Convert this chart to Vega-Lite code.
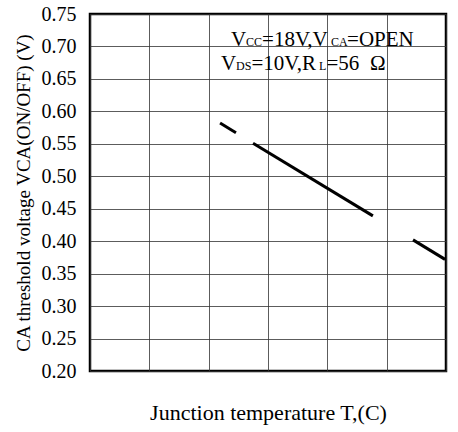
{
  "$schema": "https://vega.github.io/schema/vega-lite/v6.json",
  "autosize": {"type": "none"},
  "width": 356,
  "height": 357,
  "padding": {"left": 90, "top": 14, "right": 12, "bottom": 61},
  "background": "white",
  "config": {
    "font": "Liberation Serif",
    "view": {"stroke": "black", "strokeWidth": 2.5},
    "axis": {
      "labelFont": "Liberation Serif",
      "titleFont": "Liberation Serif",
      "labelColor": "black",
      "titleColor": "black",
      "labelFontSize": 20,
      "titleFontSize": 20,
      "titleFontWeight": "normal",
      "labelOverlap": false,
      "domain": false,
      "ticks": false,
      "gridColor": "#333",
      "gridWidth": 1,
      "gridOpacity": 0.8
    }
  },
  "datasets": {
    "curve": [
      {"T": 29.8, "V": 0.582, "seg": "a"},
      {"T": 36.5, "V": 0.567, "seg": "a"},
      {"T": 43.7, "V": 0.551, "seg": "b"},
      {"T": 94.2, "V": 0.439, "seg": "b"},
      {"T": 111.1, "V": 0.402, "seg": "c"},
      {"T": 124.6, "V": 0.372, "seg": "c"}
    ],
    "big": [
      {"T": 34.4, "V": 0.7007, "txt": "V"},
      {"T": 47.5, "V": 0.7007, "txt": "=18V,V"},
      {"T": 83.3, "V": 0.7007, "txt": "=OPEN"},
      {"T": 30.2, "V": 0.6637, "txt": "V"},
      {"T": 43.0, "V": 0.6637, "txt": "=10V,R"},
      {"T": 74.6, "V": 0.6637, "txt": "=56"},
      {"T": 93.0, "V": 0.6637, "txt": "Ω"}
    ],
    "small": [
      {"T": 40.7, "V": 0.7007, "txt": "CC"},
      {"T": 76.5, "V": 0.7007, "txt": "CA"},
      {"T": 36.5, "V": 0.6637, "txt": "DS"},
      {"T": 71.5, "V": 0.6637, "txt": "L"}
    ],
    "xlabels": [
      {"T": -25, "lab": "-25"},
      {"T": 0, "lab": "0"},
      {"T": 25, "lab": "25"},
      {"T": 50, "lab": "50"},
      {"T": 75, "lab": "75"},
      {"T": 100, "lab": "100"},
      {"T": 125, "lab": "125"}
    ]
  },
  "encoding": {
    "x": {
      "field": "T", "type": "quantitative",
      "scale": {"domain": [-25, 125], "nice": false},
      "axis": {"values": [-25, 0, 25, 50, 75, 100, 125], "labels": false, "title": "Junction temperature T,(C)", "titleFontSize": 22, "titlePadding": 31}
    },
    "y": {
      "field": "V", "type": "quantitative",
      "scale": {"domain": [0.2, 0.75], "nice": false, "zero": false},
      "axis": {"values": [0.2, 0.25, 0.3, 0.35, 0.4, 0.45, 0.5, 0.55, 0.6, 0.65, 0.7, 0.75], "format": ".2f", "labelOverlap": false, "labelPadding": 14, "title": "CA threshold voltage VCA(ON/OFF) (V)", "titleFontSize": 19, "titlePadding": 8}
    }
  },
  "layer": [
    {
      "data": {"name": "curve"},
      "mark": {"type": "line", "color": "black", "strokeWidth": 3},
      "encoding": {
        "detail": {"field": "seg"}
      }
    },
    {
      "data": {"name": "big"},
      "mark": {"type": "text", "align": "left", "baseline": "alphabetic", "fontSize": 21, "font": "Liberation Serif", "color": "black"},
      "encoding": {
        "text": {"field": "txt"}
      }
    },
    {
      "data": {"name": "small"},
      "mark": {"type": "text", "align": "left", "baseline": "alphabetic", "fontSize": 12, "font": "Liberation Serif", "color": "black"},
      "encoding": {
        "text": {"field": "txt"}
      }
    },
    {
      "data": {"name": "xlabels"},
      "transform": [{"filter": "datum.T > -20 && datum.T < 120"}],
      "mark": {"type": "text", "align": "center", "baseline": "top", "dy": 10, "fontSize": 20, "font": "Liberation Serif", "color": "black"},
      "encoding": {
        "y": {"datum": 0.2},
        "text": {"field": "lab"}
      }
    },
    {
      "data": {"name": "xlabels"},
      "transform": [{"filter": "datum.T < -20"}],
      "mark": {"type": "text", "align": "left", "baseline": "top", "dy": 10, "fontSize": 20, "font": "Liberation Serif", "color": "black"},
      "encoding": {
        "y": {"datum": 0.2},
        "text": {"field": "lab"}
      }
    },
    {
      "data": {"name": "xlabels"},
      "transform": [{"filter": "datum.T > 120"}],
      "mark": {"type": "text", "align": "right", "baseline": "top", "dy": 10, "fontSize": 20, "font": "Liberation Serif", "color": "black"},
      "encoding": {
        "y": {"datum": 0.2},
        "text": {"field": "lab"}
      }
    }
  ]
}
